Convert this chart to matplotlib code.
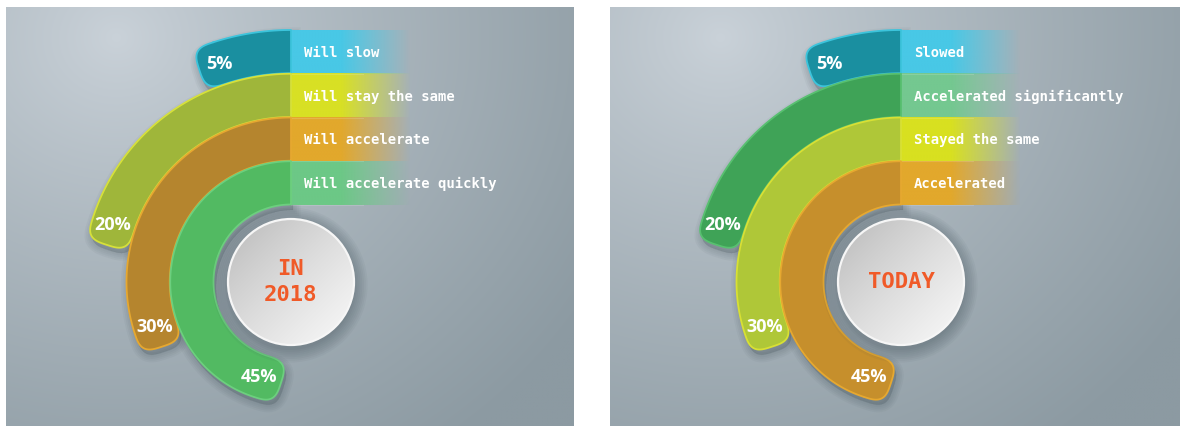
"""
Two half-ring charts: expected speed (in 2018) vs. current speed (today)
"""

import numpy as np
import matplotlib
matplotlib.use("Agg")
import matplotlib.pyplot as plt
from matplotlib.patches import Polygon, Circle
from matplotlib.colors import to_rgb


# ---- data ----
left_labels = ["Will slow", "Will stay the same", "Will accelerate", "Will accelerate quickly"]
left_values = [5, 20, 30, 45]
left_title = "IN\n2018"

right_labels = ["Slowed", "Accelerated significantly", "Stayed the same", "Accelerated"]
right_values = [5, 20, 30, 45]
right_title = "TODAY"

# ---- styles ----
left_ring_colors = ["#1a8fa0", "#9fb63a", "#b5852e", "#52ba62"]
left_edge_colors = ["#3cc4dc", "#d6e03a", "#e6a830", "#6ccf7e"]
left_band_colors = ["#48c8e6", "#d8e024", "#e2a82c", "#6cc886"]

right_ring_colors = ["#1a8fa0", "#3fa357", "#afc738", "#c68f2c"]
right_edge_colors = ["#3cc4dc", "#58c070", "#d8e034", "#e6a830"]
right_band_colors = ["#48c8e6", "#74c890", "#d8e020", "#e2a82c"]

W, H = 1183, 426
OUTER_R = 252
RING_W = 43.75
DISK_R = 63
BAND_LEN = 120
TITLE_COLOR = "#f05a28"


def ring_path(cx, cy, r_out, r_in, a1):
    """Outline of a ring segment: flat start at 90 deg, rounded square-ish cap at the end"""
    th = np.radians(np.linspace(90, a1, 200))
    outer = np.column_stack([cx + r_out * np.cos(th), cy - r_out * np.sin(th)])
    inner = np.column_stack([cx + r_in * np.cos(th[::-1]), cy - r_in * np.sin(th[::-1])])
    a = np.radians(a1)
    rm = (r_out + r_in) / 2
    hw = (r_out - r_in) / 2
    c = np.array([cx + rm * np.cos(a), cy - rm * np.sin(a)])
    u = np.array([np.cos(a), -np.sin(a)])
    t = np.array([-np.sin(a), -np.cos(a)])
    phi = np.linspace(0, np.pi, 80)
    p = 0.6
    cu = np.sign(np.cos(phi)) * np.abs(np.cos(phi)) ** p
    su = np.abs(np.sin(phi)) ** p
    cap = c + hw * (cu[:, None] * u + su[:, None] * t)
    return np.vstack([outer, cap, inner])


def draw_background(ax, x0, x1, y0, y1):
    xs = np.linspace(x0, x1, 300)
    ys = np.linspace(y0, y1, 240)
    X, Y = np.meshgrid(xs, ys)
    d = np.hypot(X - (x0 + 110), (Y - (y0 + 30)) * 1.1)
    t = np.clip(d / 560, 0, 1) ** 0.85
    light = np.array(to_rgb("#cad2d9"))
    dark = np.array(to_rgb("#8c9aa2"))
    img = light[None, None, :] * (1 - t[..., None]) + dark[None, None, :] * t[..., None]
    ax.imshow(img, extent=(x0, x1, y1, y0), origin="upper", aspect="auto",
              interpolation="bilinear", zorder=0)


def draw_panel(ax, cx, cy, labels, values, title, ring_colors, edge_colors, band_colors):
    n = len(values)
    radii = [OUTER_R - i * RING_W for i in range(n + 1)]

    # legend bands fading to the right
    xs = np.linspace(0, 1, 200)
    alpha = np.clip((1 - xs) / 0.58, 0, 1)
    for i, (lab, col) in enumerate(zip(labels, band_colors)):
        top = cy - radii[i]
        bot = cy - radii[i + 1]
        rgba = np.zeros((1, len(xs), 4))
        rgba[..., :3] = to_rgb(col)
        rgba[..., 3] = alpha
        ax.imshow(rgba, extent=(cx, cx + BAND_LEN, bot, top), origin="upper",
                  aspect="auto", interpolation="bilinear", zorder=2)
        ax.plot([cx, cx + BAND_LEN * 0.6], [bot, bot], color="white", alpha=0.15,
                lw=0.8, zorder=2.5)
        ax.text(cx + 13, (top + bot) / 2 + 1, lab, color="white", fontsize=10,
                family="DejaVu Sans Mono", fontweight="bold", ha="left",
                va="center", zorder=6)

    # ring shadows
    for i, v in enumerate(values):
        pts = ring_path(cx, cy, radii[i], radii[i + 1], 90 + v * 3.6)
        for k in range(5):
            ax.add_patch(Polygon(pts + np.array([2, 5]), closed=True, facecolor="#304048",
                                 edgecolor="#304048", lw=1 + 2.5 * k, alpha=0.045,
                                 zorder=1))

    # rings
    for i, v in enumerate(values):
        a1 = 90 + v * 3.6
        pts = ring_path(cx, cy, radii[i], radii[i + 1] + 0.5, a1)
        ax.add_patch(Polygon(pts, closed=True, facecolor=ring_colors[i],
                             edgecolor=edge_colors[i], lw=1.3, zorder=3,
                             joinstyle="round"))
        rm = (radii[i] + radii[i + 1]) / 2
        a = np.radians(a1)
        ax.text(cx + rm * np.cos(a) - 1, cy - rm * np.sin(a) + 1, f"{v}%",
                color="white", fontsize=13, family="Open Sans", fontweight="bold",
                ha="center", va="center", zorder=6)

    # center disk with soft shadow
    for k in range(8):
        ax.add_patch(Circle((cx - 1, cy + 3), DISK_R + 2 + 1.8 * k, facecolor="#3c4c55",
                            edgecolor="none", alpha=0.05, zorder=4))
    disk = Circle((cx, cy), DISK_R, facecolor="none", edgecolor="#f6f6f6", lw=1.6,
                  zorder=5.5)
    ax.add_patch(disk)
    g = np.linspace(0, 1, 200)
    GX, GY = np.meshgrid(g, g)
    t = np.clip((GX + GY) / 2, 0, 1) ** 0.8
    c0 = np.array(to_rgb("#b6b6b6"))
    c1 = np.array(to_rgb("#fafafa"))
    img = c0 * (1 - t[..., None]) + c1 * t[..., None]
    im = ax.imshow(img, extent=(cx - DISK_R, cx + DISK_R, cy + DISK_R, cy - DISK_R),
                   origin="upper", aspect="auto", interpolation="bilinear", zorder=5)
    im.set_clip_path(disk)
    ax.text(cx, cy, title, color=TITLE_COLOR, fontsize=16, family="DejaVu Sans Mono",
            fontweight="bold", ha="center", va="center", linespacing=1.35, zorder=6)


fig = plt.figure(figsize=(W / 100, H / 100), dpi=100, facecolor="white")
ax = fig.add_axes([0, 0, 1, 1])

draw_background(ax, 6, 574, 7, 426)
draw_background(ax, 610, 1180, 7, 426)

draw_panel(ax, 291, 282, left_labels, left_values, left_title,
           left_ring_colors, left_edge_colors, left_band_colors)
draw_panel(ax, 901, 282, right_labels, right_values, right_title,
           right_ring_colors, right_edge_colors, right_band_colors)

ax.set_xlim(0, W)
ax.set_ylim(H, 0)
ax.axis("off")

fig.savefig("out.png", dpi=100, facecolor="white")
